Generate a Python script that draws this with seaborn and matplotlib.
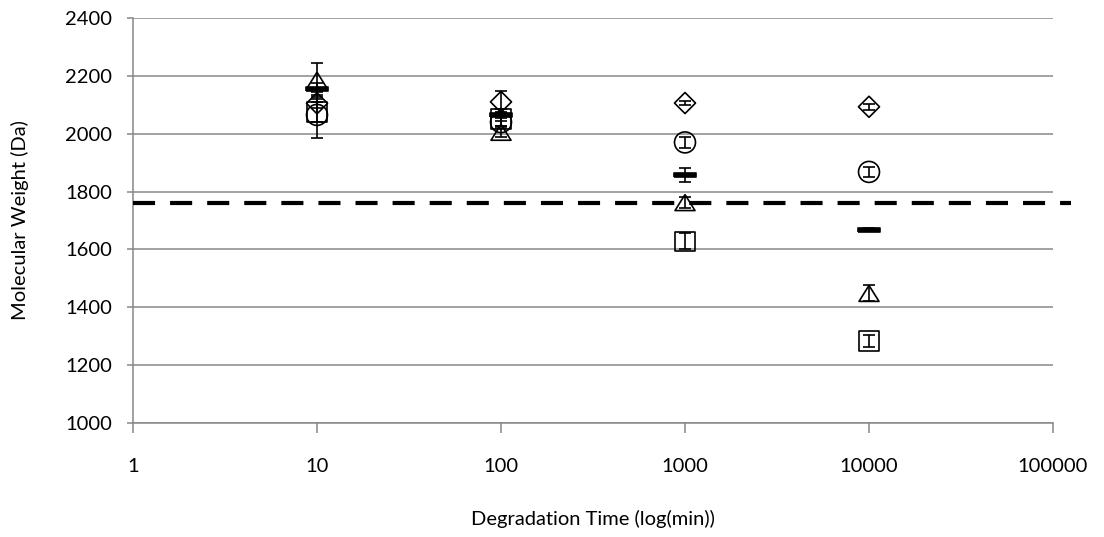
import numpy as np
import pandas as pd
import matplotlib
matplotlib.use("Agg")
import matplotlib.pyplot as plt
from matplotlib.ticker import FixedLocator, NullLocator
import seaborn as sns

# Degradation times (min) and molecular weights (Da) of each sample series
times = [10, 100, 1000, 10000]

mw_diamond = [2105, 2110, 2106, 2093]
err_diamond = [15, 38, 8, 10]

mw_circle = [2065, 2040, 1970, 1868]
err_circle = [80, 15, 20, 18]

mw_dash = [2155, 2065, 1858, 1668]
err_dash = [20, 20, 25, 6]

mw_triangle = [2185, 2005, 1762, 1448]
err_triangle = [58, 15, 20, 28]

mw_square = [2075, 2050, 1628, 1283]
err_square = [35, 25, 28, 22]

reference_mw = 1760

x_ticks = [1, 10, 100, 1000, 10000, 100000]
x_tick_labels = ["1", "10", "100", "1000", "10000", "100000"]
y_ticks = [1000, 1200, 1400, 1600, 1800, 2000, 2200, 2400]

sns.set_theme(style="white")
plt.rcParams["font.family"] = ["Lato", "DejaVu Sans"]

fig = plt.figure(figsize=(11.04, 5.37), dpi=100)
ax = fig.add_axes([133 / 1104, 1 - 423 / 537, (1053 - 133) / 1104, (423 - 18) / 537])

grid_color = "#888888"
font_size = 14.5

tri_marker = [(0, 0.8), (-1, -0.8), (1, -0.8), (0, 0.8)]
bar_marker = [(-1, -0.22), (1, -0.22), (1, 0.22), (-1, 0.22), (-1, -0.22)]

series = [
    ("A", mw_diamond, err_diamond, "D", 115, "none"),
    ("B", mw_circle, err_circle, "o", 228, "none"),
    ("C", mw_dash, err_dash, bar_marker, 240, "black"),
    ("D", mw_triangle, err_triangle, tri_marker, 207, "none"),
    ("E", mw_square, err_square, "s", 200, "none"),
]

for name, vals, errs, marker, size, face in series:
    df = pd.DataFrame({"time": times, "mw": vals, "err": errs})
    ax.errorbar(df["time"], df["mw"], yerr=df["err"], fmt="none",
                ecolor="black", elinewidth=1.2, capsize=4.5, capthick=1.2,
                zorder=3)
    sns.scatterplot(data=df, x="time", y="mw", ax=ax, marker=marker,
                    s=size, facecolor=face, edgecolor="black",
                    linewidth=1.2, zorder=4, legend=False)

# Reference molecular weight, drawn slightly past the plot's right edge
ax.plot([1, 10 ** 5.1], [reference_mw, reference_mw], color="black",
        lw=3.0, dashes=(5.3, 3.6), clip_on=False, zorder=5,
        solid_capstyle="butt", dash_capstyle="butt")

ax.set_xscale("log")
ax.set_xlim(1, 100000)
ax.set_ylim(1000, 2400)
ax.xaxis.set_major_locator(FixedLocator(x_ticks))
ax.xaxis.set_minor_locator(NullLocator())
ax.set_xticklabels(x_tick_labels)
ax.set_yticks(y_ticks)

ax.grid(axis="y", color=grid_color, linewidth=1.1)
ax.grid(axis="x", visible=False)
ax.set_axisbelow(True)

for side in ("top", "right"):
    ax.spines[side].set_visible(False)
for side in ("left", "bottom"):
    ax.spines[side].set_color(grid_color)
    ax.spines[side].set_linewidth(1.1)

ax.tick_params(axis="y", which="major", direction="out", length=4,
               width=1.1, color=grid_color, pad=11, labelsize=font_size,
               labelcolor="black", left=True)
ax.tick_params(axis="x", which="major", direction="out", length=7,
               width=1.1, color=grid_color, pad=18, labelsize=font_size,
               labelcolor="black", bottom=True)

ax.set_xlabel("Degradation Time (log(min))", fontsize=font_size, labelpad=25,
              color="black")
ax.set_ylabel("Molecular Weight (Da)", fontsize=font_size, labelpad=26,
              color="black")

fig.savefig("out.png", dpi=100)
